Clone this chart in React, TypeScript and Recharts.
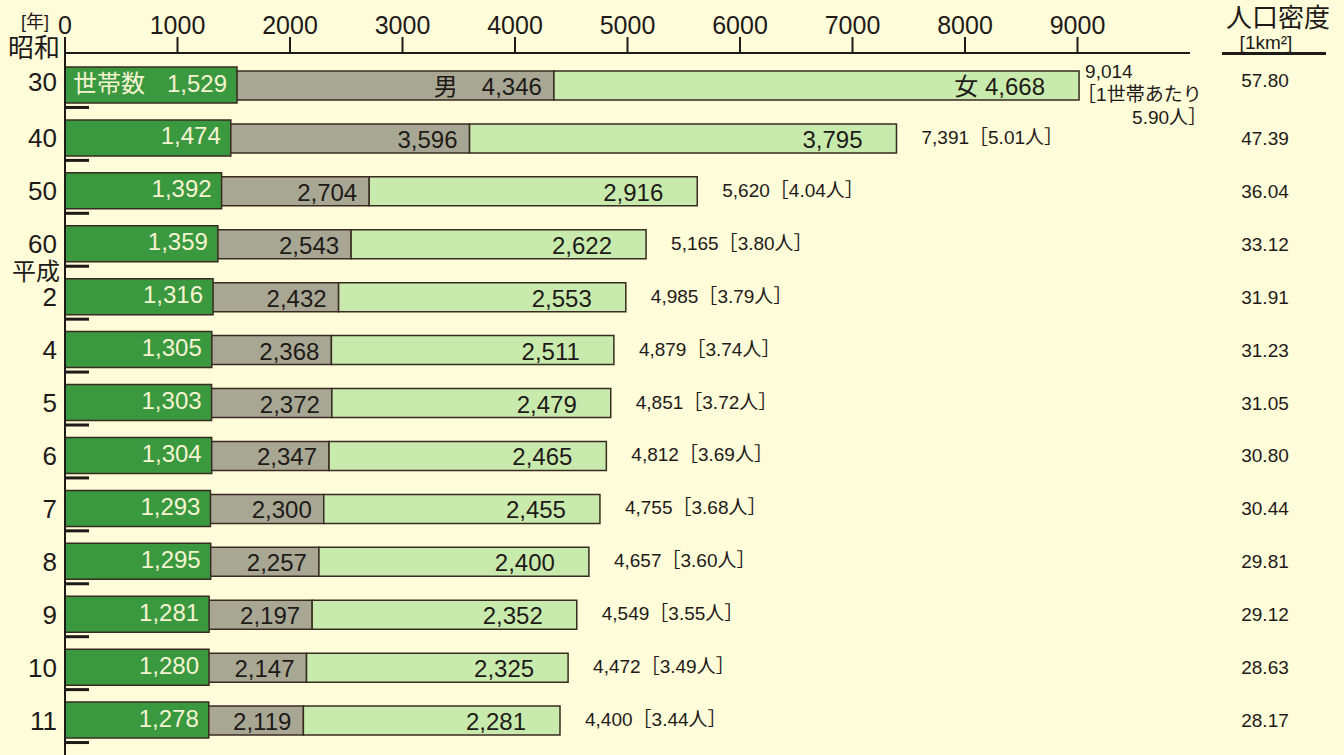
import React from "react"
import { Bar, BarChart, LabelList, XAxis, YAxis } from "recharts"

const years = ["30", "40", "50", "60", "2", "4", "5", "6", "7", "8", "9", "10", "11"]
const households = [1529, 1474, 1392, 1359, 1316, 1305, 1303, 1304, 1293, 1295, 1281, 1280, 1278]
const male = [4346, 3596, 2704, 2543, 2432, 2368, 2372, 2347, 2300, 2257, 2197, 2147, 2119]
const female = [4668, 3795, 2916, 2622, 2553, 2511, 2479, 2465, 2455, 2400, 2352, 2325, 2281]
const totals = [9014, 7391, 5620, 5165, 4985, 4879, 4851, 4812, 4755, 4657, 4549, 4472, 4400]
const perHousehold = ["5.90", "5.01", "4.04", "3.80", "3.79", "3.74", "3.72", "3.69", "3.68", "3.60", "3.55", "3.49", "3.44"]
const density = ["57.80", "47.39", "36.04", "33.12", "31.91", "31.23", "31.05", "30.80", "30.44", "29.81", "29.12", "28.63", "28.17"]
const xTicks = [0, 1000, 2000, 3000, 4000, 5000, 6000, 7000, 8000, 9000]
// era names shown above a year label
const eras: Record<string, string> = { "30": "昭和", "2": "平成" }

const data = years.map((year, i) => ({
  year,
  households: households[i],
  male: male[i],
  female: female[i],
}))

const FONT = "'Liberation Sans', Arial, 'Noto Sans CJK JP', sans-serif"
const INK = "#1e1a18"
const EDGE = "#3a2b22"
const BG = "#fefcd9"

const fmt = (v: number) => v.toLocaleString("en-US")

const LeftTick = (props: any) => {
  const { x, y, payload, index } = props
  const era = eras[payload.value]
  const first = index === 0
  return (
    <g fontFamily={FONT}>
      {first && (
        <text x={35} y={y - 63} fontSize={18} textAnchor="middle" dominantBaseline="central" fill={INK}>
          [年]
        </text>
      )}
      {era && (
        <text x={x + 3} y={y - (first ? 37 : 26)} fontSize={first ? 26 : 24} textAnchor="end" dominantBaseline="central" fill={INK}>
          {era}
        </text>
      )}
      <text x={x} y={first ? y - 3 : y} fontSize={26} textAnchor="end" dominantBaseline="central" fill={INK}>
        {payload.value}
      </text>
      <line x1={x + 8} x2={x + 32} y1={y + 22} y2={y + 22} stroke={INK} strokeWidth={3} />
    </g>
  )
}

const RightTick = (props: any) => {
  const { x, y, index } = props
  const first = index === 0
  return (
    <g fontFamily={FONT} fill={INK}>
      {first && (
        <g>
          <text x={x + 88} y={y - 67} fontSize={26} textAnchor="middle" dominantBaseline="central">
            人口密度
          </text>
          <text x={x + 76} y={y - 43} fontSize={19} textAnchor="middle" dominantBaseline="central">
            [1km²]
          </text>
          <line x1={x + 32} x2={x + 136} y1={y - 32} y2={y - 32} stroke={INK} strokeWidth={3} />
        </g>
      )}
      <text x={x + 75} y={first ? y - 5 : y} fontSize={19} textAnchor="middle" dominantBaseline="central">
        {density[index]}
      </text>
    </g>
  )
}

const householdLabel = (props: any) => {
  const { x, y, width, height, value, index } = props
  const cy = y + height / 2 - 2
  return (
    <g fontFamily={FONT} fill="#f6f4d2" fontSize={24}>
      {index === 0 && (
        <text x={x + 8} y={cy} textAnchor="start" dominantBaseline="central">
          世帯数
        </text>
      )}
      <text x={x + width - 10} y={cy} textAnchor="end" dominantBaseline="central">
        {fmt(value)}
      </text>
    </g>
  )
}

const maleLabel = (props: any) => {
  const { x, y, width, height, value, index } = props
  return (
    <text
      x={x + width - 12}
      y={y + height / 2 + 1}
      fontFamily={FONT}
      fontSize={24}
      fill={INK}
      textAnchor="end"
      dominantBaseline="central"
    >
      {index === 0 ? `男　${fmt(value)}` : fmt(value)}
    </text>
  )
}

const femaleLabel = (props: any) => {
  const { x, y, width, height, value, index } = props
  const cy = y + height / 2 + 1
  const endX = x + width
  return (
    <g fontFamily={FONT} fill={INK}>
      <text x={endX - 34} y={cy} fontSize={24} textAnchor="end" dominantBaseline="central">
        {index === 0 ? `女  ${fmt(value)}` : fmt(value)}
      </text>
      {index === 0 ? (
        <g fontSize={19}>
          <text x={endX + 6} y={cy - 15} dominantBaseline="central">{fmt(totals[index])}</text>
          <text x={endX - 2} y={cy + 8} dominantBaseline="central">［1世帯あたり</text>
          <text x={endX + 128} y={cy + 31} textAnchor="end" dominantBaseline="central">
            {perHousehold[index]}人］
          </text>
        </g>
      ) : (
        <text x={endX + 25} y={cy - 2} fontSize={19} dominantBaseline="central">
          {fmt(totals[index])}［{perHousehold[index]}人］
        </text>
      )}
    </g>
  )
}

export default function App() {
  return (
    <div style={{ position: "absolute", left: 0, top: 0, width: 1344, height: 755, background: BG, overflow: "hidden" }}>
      <BarChart
        width={1344}
        height={755}
        data={data}
        layout="vertical"
        margin={{ top: 0, right: 0, bottom: 0, left: 0 }}
      >
        <XAxis
          type="number"
          orientation="top"
          domain={[0, 10000]}
          ticks={xTicks}
          height={53}
          tickSize={16}
          tickMargin={3}
          stroke={INK}
          strokeWidth={2}
          tick={{ fontSize: 25, fill: INK, fontFamily: FONT }}
          interval={0}
        />
        <YAxis
          yAxisId="left"
          type="category"
          dataKey="year"
          width={65}
          tickSize={0}
          tickMargin={8}
          stroke={INK}
          strokeWidth={2}
          tick={<LeftTick />}
          padding={{ top: 6, bottom: 8 }}
          interval={0}
        />
        <YAxis
          yAxisId="right"
          type="category"
          dataKey="year"
          orientation="right"
          width={154}
          tickSize={0}
          tickMargin={0}
          axisLine={false}
          tick={<RightTick />}
          padding={{ top: 6, bottom: 8 }}
          interval={0}
        />
        <Bar
          yAxisId="right"
          dataKey="male"
          stackId="pop"
          barSize={29}
          fill="#a8a794"
          stroke={EDGE}
          strokeWidth={1.5}
          isAnimationActive={false}
        >
          <LabelList dataKey="male" content={maleLabel} />
        </Bar>
        <Bar
          yAxisId="right"
          dataKey="female"
          stackId="pop"
          barSize={29}
          fill="#c9eaad"
          stroke={EDGE}
          strokeWidth={1.5}
          isAnimationActive={false}
        >
          <LabelList dataKey="female" content={femaleLabel} />
        </Bar>
        <Bar
          yAxisId="left"
          dataKey="households"
          barSize={36}
          fill="#3a983f"
          stroke={EDGE}
          strokeWidth={1.5}
          isAnimationActive={false}
        >
          <LabelList dataKey="households" content={householdLabel} />
        </Bar>
      </BarChart>
    </div>
  )
}
